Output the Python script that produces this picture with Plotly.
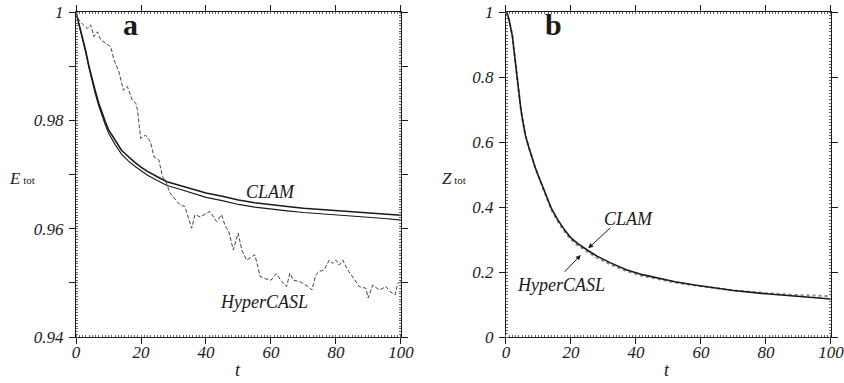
import plotly.graph_objects as go

# ---------- Panel a data ----------
t_clam = [0, 1, 2, 3, 4, 5, 6, 7, 8, 9, 10, 12, 14, 16, 18, 20, 22, 25, 28, 32, 36, 40,
          45, 50, 55, 60, 65, 70, 75, 80, 85, 90, 95, 100]
e_clam_upper = [1.0, 0.9977, 0.9954, 0.9928, 0.9900, 0.9875, 0.9853, 0.9832, 0.9814, 0.9798,
                0.9783, 0.9763, 0.9745, 0.9734, 0.9723, 0.9714, 0.9706, 0.9696, 0.9687, 0.9680,
                0.9673, 0.9666, 0.9660, 0.9653, 0.9648, 0.9644, 0.9641, 0.9638, 0.9636, 0.9634,
                0.9632, 0.9630, 0.9628, 0.9625]
e_clam_lower = [1.0, 0.9976, 0.9952, 0.9926, 0.9897, 0.9871, 0.9848, 0.9827, 0.9808, 0.9792,
                0.9777, 0.9756, 0.9738, 0.9726, 0.9716, 0.9707, 0.9699, 0.9689, 0.9680, 0.9673,
                0.9666, 0.9658, 0.9652, 0.9645, 0.9640, 0.9636, 0.9633, 0.9630, 0.9628, 0.9626,
                0.9624, 0.9621, 0.9619, 0.9616]

t_hyper = [0, 0.9, 2, 3.5, 4.5, 5.5, 6.6, 7.6, 9.1, 10.7, 11.7, 13.2, 14.6, 15.8, 17.3, 18.4,
           18.9, 19.9, 21.4, 22.9, 24.0, 25.5, 26.6, 27.5, 28.9, 30.5, 32.0, 33.5, 35.6, 36.6,
           38.2, 40, 41.2, 43.3, 44.8, 45.8, 47, 48.4, 49.9, 51.0, 52.5, 54.0, 55, 56.1, 56.6,
           58, 60, 61.7, 63, 64.8, 65.8, 66.9, 69, 71.5, 72.6, 73.8, 74.8, 76.4, 77.9, 79.0,
           80, 81, 82.1, 83.6, 85.1, 87.2, 89.2, 89.9, 91.3, 93.3, 95.4, 96.6, 98.2, 99, 100]
e_hyper = [1.0, 0.9986, 0.9978, 0.9970, 0.9977, 0.9955, 0.9964, 0.9949, 0.9943, 0.9936,
           0.9912, 0.9890, 0.9856, 0.9863, 0.9838, 0.9832, 0.9820, 0.9767, 0.9773, 0.9761,
           0.9733, 0.9727, 0.9696, 0.9690, 0.9666, 0.9655, 0.9644, 0.9641, 0.9601, 0.9626,
           0.9622, 0.9628, 0.9632, 0.9613, 0.9626, 0.9607, 0.9595, 0.9561, 0.9592, 0.9561,
           0.9542, 0.9548, 0.9552, 0.9527, 0.9512, 0.9508, 0.9505, 0.9517, 0.9505, 0.9493,
           0.9518, 0.9505, 0.9502, 0.9493, 0.9487, 0.9515, 0.9521, 0.9524, 0.9542, 0.9536,
           0.9542, 0.9533, 0.9542, 0.9524, 0.9512, 0.9493, 0.9490, 0.9472, 0.9496, 0.9487,
           0.9493, 0.9484, 0.9478, 0.9499, 0.9502]

# ---------- Panel b data ----------
t_b = [0, 0.5, 1, 1.5, 2, 2.5, 3, 3.5, 4, 4.5, 5, 6, 7, 8, 9, 10, 12, 14, 16, 18, 20, 22,
       25, 28, 32, 37, 42, 47, 52, 58, 64, 70, 80, 90, 100]
z_clam = [1.0, 0.993, 0.975, 0.952, 0.925, 0.880, 0.832, 0.786, 0.745, 0.708, 0.675, 0.620,
          0.585, 0.552, 0.522, 0.496, 0.445, 0.395, 0.360, 0.330, 0.305, 0.288, 0.268, 0.249,
          0.229, 0.207, 0.192, 0.180, 0.170, 0.160, 0.151, 0.143, 0.133, 0.125, 0.117]
z_hyper = [1.0, 0.993, 0.975, 0.952, 0.925, 0.880, 0.832, 0.786, 0.745, 0.708, 0.675, 0.620,
           0.585, 0.552, 0.521, 0.494, 0.442, 0.391, 0.355, 0.325, 0.300, 0.283, 0.263, 0.244,
           0.224, 0.203, 0.188, 0.177, 0.168, 0.159, 0.151, 0.1435, 0.135, 0.129, 0.126]

x_ticks = [0, 20, 40, 60, 80, 100]
x_text = ["0", "20", "40", "60", "80", "100"]
ya_ticks = [0.94, 0.95, 0.96, 0.97, 0.98, 0.99, 1.0]
ya_text = ["0.94", "", "0.96", "", "0.98", "", "1"]
yb_ticks = [0, 0.2, 0.4, 0.6, 0.8, 1.0]
yb_text = ["0", "0.2", "0.4", "0.6", "0.8", "1"]

SERIF = "Liberation Serif"
INK = "#1a1a1a"


def ital(labels):
    return ["<i>%s</i>" % s if s else "" for s in labels]


fig = go.Figure()
fig.add_trace(go.Scatter(x=t_clam, y=e_clam_upper, mode="lines", xaxis="x", yaxis="y",
                         line=dict(color=INK, width=1.6), showlegend=False))
fig.add_trace(go.Scatter(x=t_clam, y=e_clam_lower, mode="lines", xaxis="x", yaxis="y",
                         line=dict(color=INK, width=1.1), showlegend=False))
fig.add_trace(go.Scatter(x=t_hyper, y=e_hyper, mode="lines", xaxis="x", yaxis="y",
                         line=dict(color="#444444", width=1, dash="4px,2px"), showlegend=False))
fig.add_trace(go.Scatter(x=t_b, y=z_hyper, mode="lines", xaxis="x2", yaxis="y2",
                         line=dict(color="#8a8a8a", width=2, dash="dot"), showlegend=False))
fig.add_trace(go.Scatter(x=t_b, y=z_clam, mode="lines", xaxis="x2", yaxis="y2",
                         line=dict(color=INK, width=1.6), showlegend=False))

tickfont = dict(family=SERIF, size=17, color=INK)


def xaxis_cfg(domain, anchor):
    return dict(domain=domain, anchor=anchor, range=[0, 100], tickvals=x_ticks,
                ticktext=ital(x_text), automargin=False, ticklabelstandoff=-7,
                ticklabeloverflow="allow",
                ticks="outside", ticklen=6, tickwidth=1.2, tickcolor=INK,
                showline=True, linecolor=INK, linewidth=1.3, mirror="ticks",
                showgrid=False, zeroline=False, tickfont=tickfont,
                minor=dict(dtick=1, ticks="inside", ticklen=2, tickcolor="#666", tickwidth=1),
                fixedrange=True)


def yaxis_cfg(anchor, rng, vals, text, mdt):
    return dict(domain=[0.1201, 0.9679], anchor=anchor, range=rng, tickvals=vals,
                ticktext=ital(text), automargin=False, ticklabelstandoff=2,
                ticklabeloverflow="allow",
                ticks="outside", ticklen=6, tickwidth=1.2, tickcolor=INK,
                showline=True, linecolor=INK, linewidth=1.3, mirror="ticks",
                showgrid=False, zeroline=False, tickfont=tickfont,
                minor=dict(dtick=mdt, ticks="inside", ticklen=2, tickcolor="#666", tickwidth=1),
                fixedrange=True)


fig.update_layout(
    width=844, height=383,
    margin=dict(l=0, r=0, t=0, b=0, autoexpand=False),
    font=dict(family=SERIF, color=INK),
    paper_bgcolor="white", plot_bgcolor="white",
    xaxis=xaxis_cfg([0.09005, 0.4751], "y"),
    yaxis=yaxis_cfg("x", [0.94, 1.0], ya_ticks, ya_text, 0.0005),
    xaxis2=xaxis_cfg([0.5995, 0.9846], "y2"),
    yaxis2=yaxis_cfg("x2", [0, 1], yb_ticks, yb_text, 0.01),
)

ann_font = dict(family=SERIF, size=18, color=INK)
annotations = [
    # axis titles
    dict(text="<i>t</i>", xref="paper", yref="paper", x=238 / 844, y=1 - 370 / 383,
         showarrow=False, font=ann_font, xanchor="center", yanchor="middle"),
    dict(text="<i>t</i>", xref="paper", yref="paper", x=667 / 844, y=1 - 370 / 383,
         showarrow=False, font=ann_font, xanchor="center", yanchor="middle"),
    dict(text="<i>E</i><span style='font-size:11px'> tot</span>",
         xref="paper", yref="paper", x=22 / 844, y=1 - 178 / 383,
         showarrow=False, font=dict(family=SERIF, size=17, color=INK),
         xanchor="center", yanchor="middle"),
    dict(text="<i>Z</i><span style='font-size:11px'> tot</span>",
         xref="paper", yref="paper", x=454 / 844, y=1 - 178 / 383,
         showarrow=False, font=dict(family=SERIF, size=17, color=INK),
         xanchor="center", yanchor="middle"),
    # panel letters
    dict(text="<b>a</b>", xref="paper", yref="paper", x=130 / 844, y=1 - 25 / 383,
         showarrow=False, font=dict(family=SERIF, size=30, color=INK),
         xanchor="center", yanchor="middle"),
    dict(text="<b>b</b>", xref="paper", yref="paper", x=553 / 844, y=1 - 25 / 383,
         showarrow=False, font=dict(family=SERIF, size=30, color=INK),
         xanchor="center", yanchor="middle"),
    # curve labels panel a
    dict(text="<i>CLAM</i>", xref="x", yref="y", x=59.7, y=0.9668, showarrow=False,
         font=ann_font, xanchor="center", yanchor="middle"),
    dict(text="<i>HyperCASL</i>", xref="x", yref="y", x=58.0, y=0.9465, showarrow=False,
         font=ann_font, xanchor="center", yanchor="middle"),
    # curve labels panel b
    dict(text="<i>CLAM</i>", xref="x2", yref="y2", x=37.8, y=0.363, showarrow=False,
         font=ann_font, xanchor="center", yanchor="middle"),
    dict(text="<i>HyperCASL</i>", xref="x2", yref="y2", x=17.0, y=0.160, showarrow=False,
         font=ann_font, xanchor="center", yanchor="middle"),
    # arrows panel b
    dict(text="", xref="x2", yref="y2", x=25.3, y=0.273, axref="x2", ayref="y2",
         ax=32.5, ay=0.34, showarrow=True, arrowhead=2, arrowsize=1, arrowwidth=1,
         arrowcolor=INK),
    dict(text="", xref="x2", yref="y2", x=23.0, y=0.2525, axref="x2", ayref="y2",
         ax=17.6, ay=0.196, showarrow=True, arrowhead=2, arrowsize=1, arrowwidth=1,
         arrowcolor=INK),
]
fig.update_layout(annotations=annotations)

fig.write_html("out.html", config={"displayModeBar": False},
               post_script="document.body.style.margin='0px';")
